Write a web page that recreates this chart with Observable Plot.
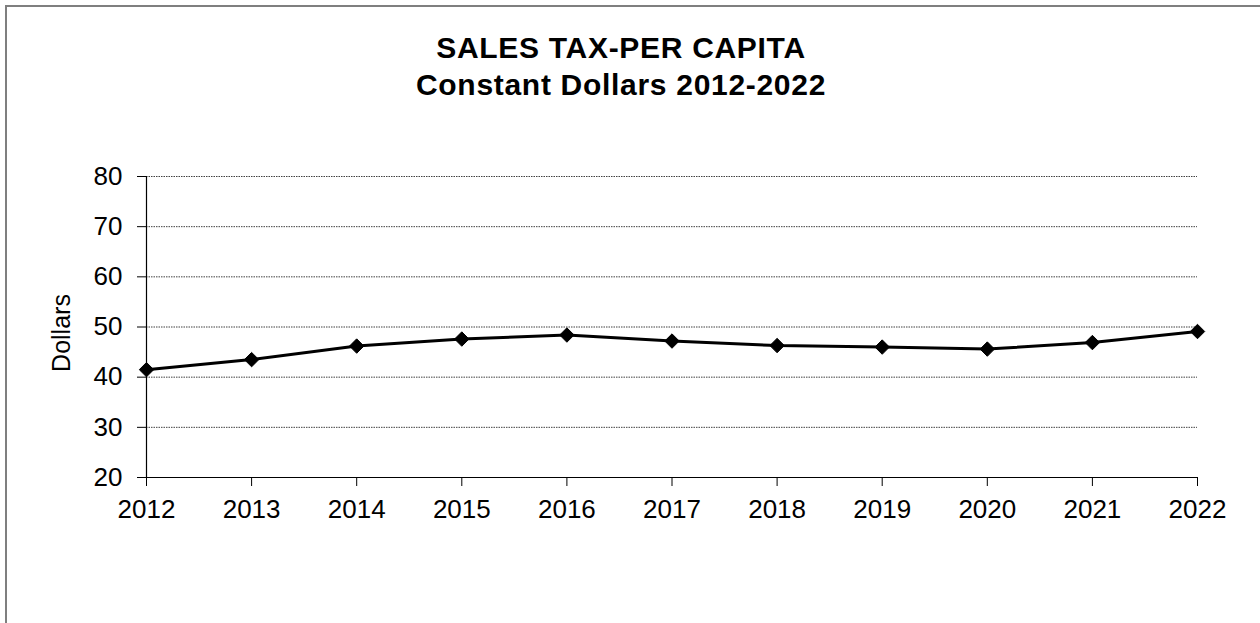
<!DOCTYPE html>
<html>
<head>
<meta charset="utf-8">
<script src="https://cdn.jsdelivr.net/npm/d3@7"></script>
<script src="https://cdn.jsdelivr.net/npm/@observablehq/plot@0.6"></script>
<style>
  html, body { margin: 0; padding: 0; background: #fff; overflow: hidden; }
  #wrap { position: relative; width: 1260px; height: 623px; overflow: hidden; font-family: "Liberation Sans", Arial, sans-serif; }
  #frame { position: absolute; left: 5px; top: 5px; width: 1400px; height: 800px; border-top: 2px solid #7f7f7f; border-left: 2px solid #7f7f7f; pointer-events: none; }
  #title { height: 120px; box-sizing: border-box; padding-top: 29px; width: 1242px; text-align: center; font-weight: bold; font-size: 30px; line-height: 37px; letter-spacing: 0.7px; color: #000; }
  svg { display: block; }
</style>
</head>
<body>
<div id="wrap">
  <div id="frame"></div>
  <div id="title">SALES TAX-PER CAPITA<br>Constant Dollars 2012-2022</div>
  <div id="chart"></div>
</div>
<script>
const years = [2012, 2013, 2014, 2015, 2016, 2017, 2018, 2019, 2020, 2021, 2022];
const salesTaxPerCapita = [41.5, 43.5, 46.2, 47.6, 48.4, 47.2, 46.3, 46.0, 45.6, 46.9, 49.1];
const yTicks = [20, 30, 40, 50, 60, 70, 80];
const yLabel = "Dollars";

const data = years.map((y, i) => ({year: y, value: salesTaxPerCapita[i]}));

const chart = Plot.plot({
  width: 1260,
  height: 503,
  marginLeft: 146,
  marginRight: 63,
  marginTop: 56,
  marginBottom: 146,
  style: {fontFamily: "'Liberation Sans', Arial, sans-serif", fontSize: "26px", color: "#000", background: "transparent"},
  x: {domain: [2012, 2022], ticks: years, tickFormat: d3.format("d")},
  y: {domain: [20, 80], ticks: yTicks},
  marks: [
    Plot.gridY(yTicks.filter(t => t > 20), {stroke: "#000", strokeOpacity: 0.75, strokeDasharray: "1.5,1", strokeWidth: 1}),
    Plot.ruleX([2012], {stroke: "#000", strokeWidth: 1.2}),
    Plot.ruleY([20], {stroke: "#000", strokeWidth: 1.2}),
    Plot.axisY({ticks: yTicks, tickSize: 9, tickPadding: 15, label: null, stroke: "#000", style: {letterSpacing: "0.8px"}}),
    Plot.axisX({ticks: years, tickFormat: d3.format("d"), tickSize: 9, tickPadding: 13, label: null, stroke: "#000", style: {letterSpacing: "0.8px"}}),
    Plot.text([yLabel], {frameAnchor: "left", textAnchor: "middle", text: d => d, rotate: -90, dx: -85, dy: 6, fontSize: 25, fill: "#000"}),
    Plot.line(data, {x: "year", y: "value", stroke: "#000", strokeWidth: 3}),
    Plot.dot(data, {x: "year", y: "value", symbol: "diamond2", r: 6.5, fill: "#000", stroke: "#000", strokeWidth: 1})
  ]
});
document.getElementById("chart").appendChild(chart);
</script>
</body>
</html>
